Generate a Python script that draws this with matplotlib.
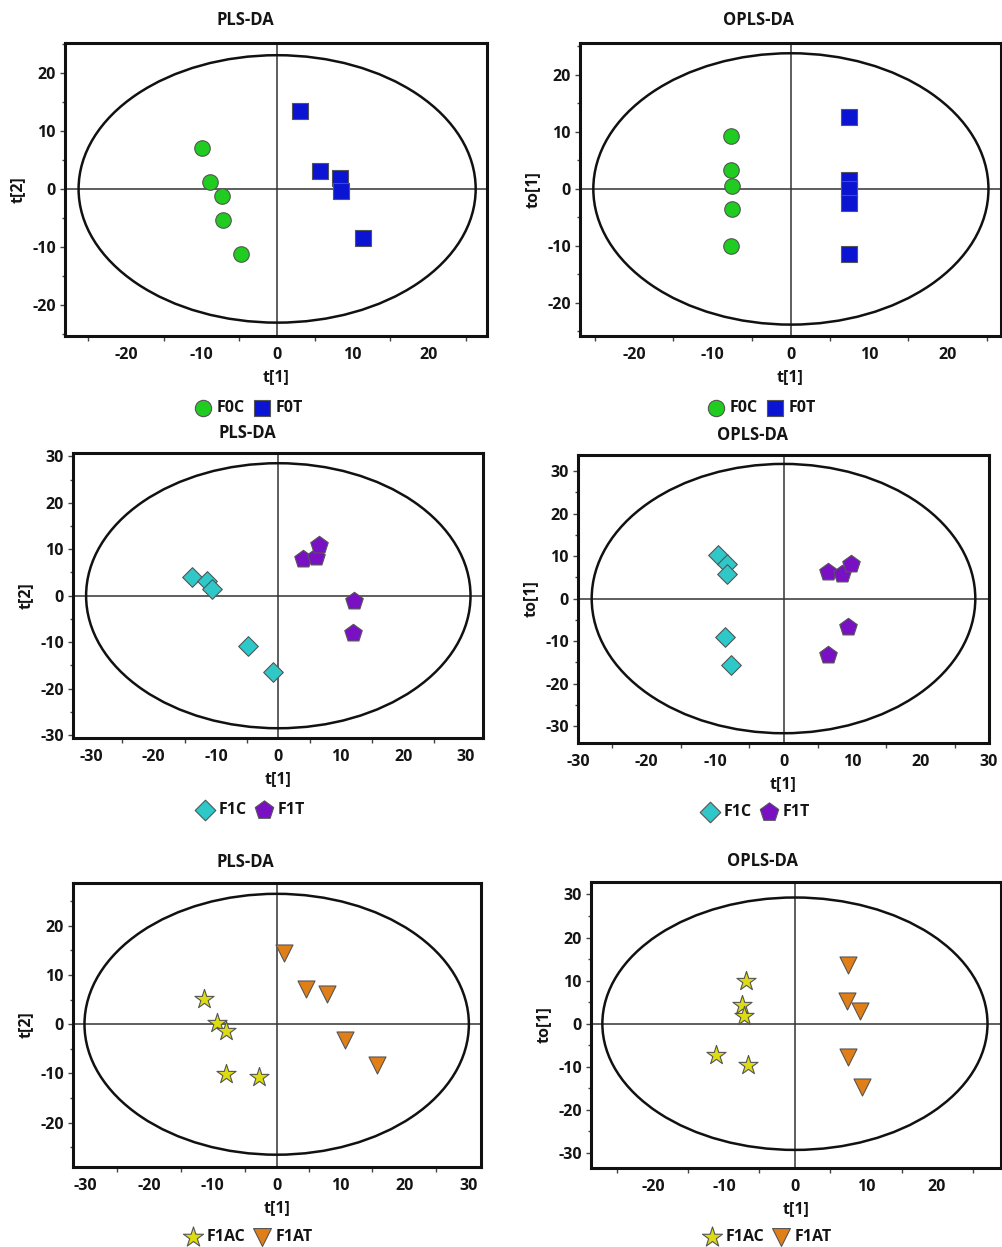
import matplotlib
matplotlib.use("Agg")
import matplotlib.pyplot as plt
from matplotlib.patches import Ellipse
from matplotlib.ticker import MultipleLocator

plt.rcParams['font.family'] = ['Open Sans', 'DejaVu Sans']
plt.rcParams['font.weight'] = 'bold'
plt.rcParams['axes.unicode_minus'] = False

W, H = 1002, 1247

# ---------------- data ----------------
# Panel 1: PLS-DA F0C / F0T
p1_c_x = [-10.0, -8.9, -7.3, -7.2, -4.8]
p1_c_y = [7.0, 1.2, -1.2, -5.3, -11.2]
p1_t_x = [3.0, 5.7, 8.3, 8.4, 11.4]
p1_t_y = [13.4, 3.1, 1.8, -0.3, -8.4]
# Panel 2: OPLS-DA F0C / F0T
p2_c_x = [-7.6, -7.6, -7.5, -7.5, -7.6]
p2_c_y = [9.3, 3.4, 0.5, -3.5, -10.0]
p2_t_x = [7.4, 7.4, 7.4, 7.4, 7.4]
p2_t_y = [12.6, 1.6, 0.0, -2.4, -11.5]
# Panel 3: PLS-DA F1C / F1T
p3_c_x = [-13.8, -11.5, -10.6, -4.9, -0.9]
p3_c_y = [3.95, 3.2, 1.4, -10.9, -16.3]
p3_t_x = [4.0, 6.1, 6.5, 12.2, 12.0]
p3_t_y = [7.9, 8.25, 11.0, -1.2, -8.0]
# Panel 4: OPLS-DA F1C / F1T
p4_c_x = [-9.55, -8.2, -8.2, -8.5, -7.6]
p4_c_y = [10.2, 8.1, 5.9, -9.05, -15.7]
p4_t_x = [6.5, 8.5, 9.8, 9.45, 6.5]
p4_t_y = [6.3, 5.7, 8.25, -6.7, -13.2]
# Panel 5: PLS-DA F1AC / F1AT
p5_c_x = [-11.4, -9.4, -8.0, -8.0, -2.7]
p5_c_y = [5.2, 0.3, -1.4, -10.2, -10.7]
p5_t_x = [1.15, 4.6, 7.95, 10.7, 15.7]
p5_t_y = [14.4, 7.1, 6.2, -3.1, -8.3]
# Panel 6: OPLS-DA F1AC / F1AT
p6_c_x = [-6.9, -7.5, -7.2, -11.1, -6.65]
p6_c_y = [10.0, 4.4, 1.9, -7.2, -9.5]
p6_t_x = [7.4, 7.3, 9.15, 7.4, 9.4]
p6_t_y = [13.7, 5.3, 2.9, -7.8, -14.6]

titles = ["PLS-DA", "OPLS-DA", "PLS-DA", "OPLS-DA", "PLS-DA", "OPLS-DA"]
ylabels = ["t[2]", "to[1]", "t[2]", "to[1]", "t[2]", "to[1]"]
xlabel = "t[1]"
group_names = [("F0C", "F0T"), ("F0C", "F0T"), ("F1C", "F1T"), ("F1C", "F1T"),
               ("F1AC", "F1AT"), ("F1AC", "F1AT")]

# ---------------- layout / style ----------------
panels = [
    dict(box=(65, 43, 487, 336), xlim=(-28.1, 27.8), ylim=(-25.3, 25.1), ell=(26.3, 23.0),
         xt=[-20, -10, 0, 10, 20], yt=[-20, -10, 0, 10, 20],
         title=(245, 20), leg=(248, 408), data=(p1_c_x, p1_c_y, p1_t_x, p1_t_y)),
    dict(box=(580, 43, 1001, 336), xlim=(-26.9, 26.8), ylim=(-25.8, 25.6), ell=(25.2, 23.8),
         xt=[-20, -10, 0, 10, 20], yt=[-20, -10, 0, 10, 20],
         title=(758, 20), leg=(761, 408), data=(p2_c_x, p2_c_y, p2_t_x, p2_t_y)),
    dict(box=(73, 453, 483, 738), xlim=(-32.9, 32.8), ylim=(-30.6, 30.7), ell=(30.8, 28.5),
         xt=[-30, -20, -10, 0, 10, 20, 30], yt=[-30, -20, -10, 0, 10, 20, 30],
         title=(247, 433), leg=(250, 810), data=(p3_c_x, p3_c_y, p3_t_x, p3_t_y)),
    dict(box=(578, 455, 989, 743), xlim=(-30, 30), ylim=(-34.0, 33.8), ell=(28.0, 31.7),
         xt=[-30, -20, -10, 0, 10, 20, 30], yt=[-30, -20, -10, 0, 10, 20, 30],
         title=(752, 435), leg=(755, 812), data=(p4_c_x, p4_c_y, p4_t_x, p4_t_y)),
    dict(box=(73, 883, 481, 1167), xlim=(-31.9, 32.0), ylim=(-29.0, 28.7), ell=(30.1, 26.5),
         xt=[-30, -20, -10, 0, 10, 20, 30], yt=[-20, -10, 0, 10, 20],
         title=(245, 862), leg=(248, 1237), data=(p5_c_x, p5_c_y, p5_t_x, p5_t_y)),
    dict(box=(591, 882, 1001, 1168), xlim=(-28.7, 29.0), ylim=(-33.5, 32.9), ell=(27.1, 29.3),
         xt=[-20, -10, 0, 10, 20], yt=[-30, -20, -10, 0, 10, 20, 30],
         title=(763, 861), leg=(767, 1237), data=(p6_c_x, p6_c_y, p6_t_x, p6_t_y)),
]

styles = [
    (dict(marker='o', s=125, color='#1fcc1f'), dict(marker='s', s=125, color='#0a14d2')),
    (dict(marker='o', s=125, color='#1fcc1f'), dict(marker='s', s=125, color='#0a14d2')),
    (dict(marker='D', s=100, color='#2ec8c8'), dict(marker='p', s=175, color='#7a10c4')),
    (dict(marker='D', s=100, color='#2ec8c8'), dict(marker='p', s=175, color='#7a10c4')),
    (dict(marker='*', s=210, color='#dcdc10'), dict(marker='v', s=150, color='#e07f18')),
    (dict(marker='*', s=210, color='#dcdc10'), dict(marker='v', s=150, color='#e07f18')),
]

fig = plt.figure(figsize=(W / 100, H / 100), dpi=100)
fig.patch.set_facecolor('white')

txt_color = '#141414'

for i, p in enumerate(panels):
    l, t, r, b = p['box']
    ax = fig.add_axes([l / W, 1 - b / H, (r - l) / W, (b - t) / H])
    ax.set_xlim(*p['xlim'])
    ax.set_ylim(*p['ylim'])
    for sp in ax.spines.values():
        sp.set_linewidth(2.2)
        sp.set_color('#111111')
    ax.axhline(0, color='#333333', lw=1.1, zorder=1)
    ax.axvline(0, color='#333333', lw=1.1, zorder=1)
    a, bb = p['ell']
    ax.add_patch(Ellipse((0, 0), 2 * a, 2 * bb, fill=False, edgecolor='#111111', lw=1.8, zorder=2))
    cx, cy, tx, ty = p['data']
    sc, st = styles[i]
    h1 = ax.scatter(cx, cy, s=sc['s'], marker=sc['marker'], c=sc['color'],
                    edgecolors='#555555', linewidths=0.8, zorder=3)
    h2 = ax.scatter(tx, ty, s=st['s'], marker=st['marker'], c=st['color'],
                    edgecolors='#555555', linewidths=0.8, zorder=3)
    ax.set_xticks(p['xt'])
    ax.set_yticks(p['yt'])
    ax.xaxis.set_minor_locator(MultipleLocator(5))
    ax.yaxis.set_minor_locator(MultipleLocator(5))
    ax.tick_params(axis='x', which='major', length=0, pad=8, labelsize=11.5,
                   labelcolor=txt_color)
    ax.tick_params(axis='x', which='minor', length=3.5, width=1, color='#444444', direction='out')
    ax.tick_params(axis='y', which='major', length=3.5, width=1, color='#444444', pad=3,
                   labelsize=11.5, labelcolor=txt_color, direction='out')
    ax.tick_params(axis='y', which='minor', length=2.5, width=1, color='#444444', direction='out')
    for lab in ax.get_xticklabels() + ax.get_yticklabels():
        lab.set_fontweight('bold')
    ax.set_xlabel(xlabel, fontsize=11.5, fontweight='bold', color=txt_color, labelpad=4)
    ax.set_ylabel(ylabels[i], fontsize=11.5, fontweight='bold', color=txt_color, labelpad=5)
    fig.text(p['title'][0] / W, 1 - p['title'][1] / H, titles[i], ha='center', va='center',
             fontsize=12, fontweight='bold', color=txt_color)
    lx, ly = p['leg']
    fig.legend([h1, h2], list(group_names[i]), loc='center',
               bbox_to_anchor=(lx / W, 1 - ly / H), ncol=2, frameon=False,
               handletextpad=0.2, columnspacing=0.4, handlelength=1.3, markerscale=1.05,
               prop=dict(weight='bold', size=11.5), labelcolor=txt_color)

fig.savefig('out.png', dpi=100, facecolor='white')
